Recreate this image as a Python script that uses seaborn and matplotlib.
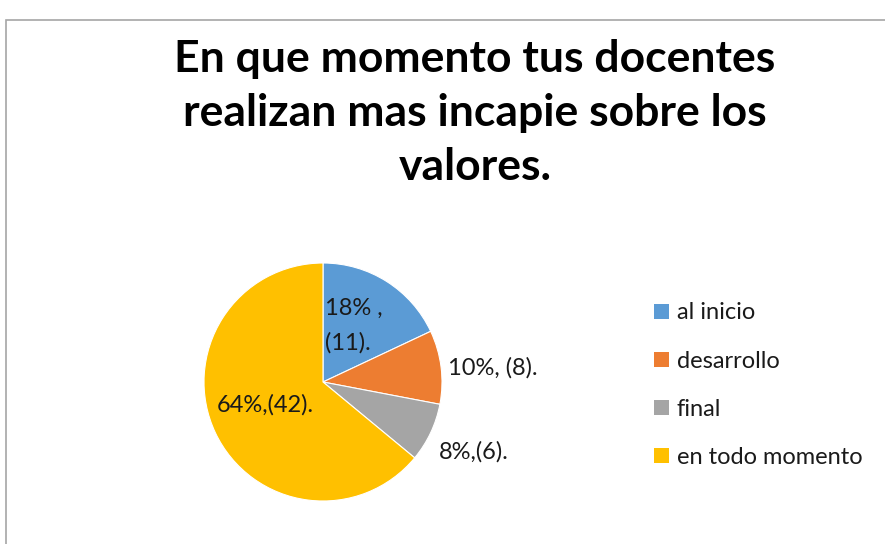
import matplotlib
matplotlib.use("Agg")
import matplotlib.pyplot as plt
import seaborn as sns
from matplotlib.patches import Rectangle, Patch

# datos del grafico
categorias = ["al inicio", "desarrollo", "final", "en todo momento"]
porcentajes = [18, 10, 8, 64]
etiquetas = ["18% ,\n(11).", "10%, (8).", "8%,(6).", "64%,(42)."]
colores = ["#5B9BD5", "#ED7D31", "#A5A5A5", "#FFC000"]
titulo = "En que momento tus docentes\nrealizan mas incapie sobre los\nvalores."

sns.set_theme(style="white")
plt.rcParams['font.family'] = ['Lato', 'DejaVu Sans']

fig = plt.figure(figsize=(8.85, 5.44), dpi=100)
fig.patch.set_facecolor("white")

# marco gris del area del grafico
fig.patches.append(Rectangle((6/885, -0.05), 1.1, 1.05 - 20/544, transform=fig.transFigure,
                             fill=False, edgecolor="#A6A6A6", linewidth=1.2))

ax = fig.add_axes([204/885, 43/544, 238/885, 238/544])
ax.pie(porcentajes, colors=colores, startangle=90, counterclock=False,
       wedgeprops=dict(edgecolor="white", linewidth=0.8), radius=1)
ax.set_xlim(-1, 1)
ax.set_ylim(-1, 1)
ax.set_aspect("equal")
ax.axis("off")

# posiciones de las etiquetas (coordenadas del pastel)
pos_etiquetas = [(0.02, 0.47), (1.05, 0.12), (0.97, -0.59), (-0.89, -0.19)]
for (x, y), txt in zip(pos_etiquetas, etiquetas):
    ax.text(x, y, txt, ha="left", va="center", fontsize=17, color="#1a1a1a",
            linespacing=1.75)

fig.text(475/885, 1 - 113/544, titulo, ha="center", va="center", fontsize=32,
         fontweight="bold", color="black", linespacing=1.42)

handles = [Patch(facecolor=c, edgecolor="none") for c in colores]
fig.legend(handles, categorias, loc="upper left", bbox_to_anchor=(645/885, 1 - 293/544),
           frameon=False, fontsize=17, handlelength=0.6, handleheight=0.6,
           handletextpad=0.35, labelspacing=1.15, labelcolor="#1a1a1a",
           borderaxespad=0)

fig.savefig("out.png", dpi=100)
